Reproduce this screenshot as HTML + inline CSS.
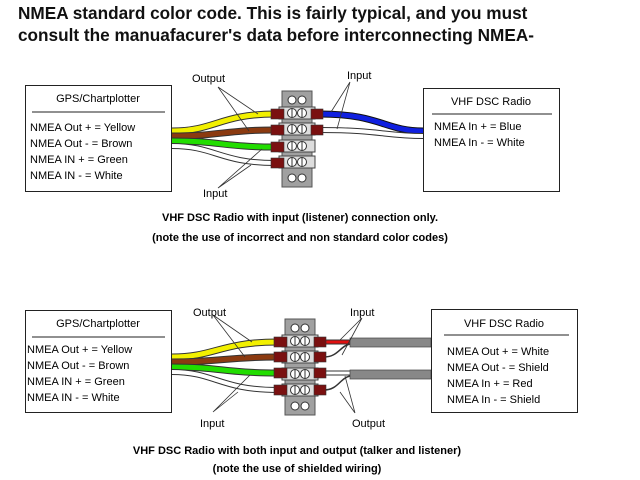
<!DOCTYPE html>
<html><head><style>body{margin:0;background:#fff}svg{display:block}text{font-family:"Liberation Sans",sans-serif}</style></head>
<body>
<svg width="640" height="480" viewBox="0 0 640 480" xmlns="http://www.w3.org/2000/svg">
<defs>
<g id="tb">
 <rect x="0" y="0" width="30" height="96" fill="#a0a0a0" stroke="#555"/>
 <circle cx="10" cy="9" r="4" fill="#fff" stroke="#333"/><circle cx="20" cy="9" r="4" fill="#fff" stroke="#333"/>
 <circle cx="10" cy="87" r="4" fill="#fff" stroke="#333"/><circle cx="20" cy="87" r="4" fill="#fff" stroke="#333"/>
 <g id="row"><rect x="-3" y="16" width="36" height="12" fill="#ddd" stroke="#444"/><circle cx="10" cy="22" r="4.5" fill="#fff" stroke="#333"/><circle cx="20" cy="22" r="4.5" fill="#fff" stroke="#333"/><line x1="10" y1="18" x2="10" y2="26" stroke="#333"/><line x1="20" y1="18" x2="20" y2="26" stroke="#333"/></g>
 <use href="#row" y="16"/><use href="#row" y="33"/><use href="#row" y="49"/>
</g>
</defs>
<text x="18" y="19" font-size="17.2" font-weight="bold" fill="#111">NMEA standard color code. This is fairly typical, and you must</text>
<text x="18" y="41" font-size="17.2" font-weight="bold" fill="#111">consult the manuafacurer's data before interconnecting NMEA-</text>

<!-- TOP DIAGRAM -->
<g fill="none" stroke-linecap="butt">
 <path d="M172,131 C215,131 220,114 275,114" stroke="#333" stroke-width="7"/><path d="M172,131 C215,131 220,114 275,114" stroke="#f2f000" stroke-width="5"/>
 <path d="M172,136 C220,136 225,130 275,130" stroke="#333" stroke-width="7"/><path d="M172,136 C220,136 225,130 275,130" stroke="#8b3a10" stroke-width="5"/>
 <path d="M172,141 C220,141 225,147 275,147" stroke="#333" stroke-width="7"/><path d="M172,141 C220,141 225,147 275,147" stroke="#22dd00" stroke-width="5"/>
 <path d="M172,146 C215,146 220,163 275,163" stroke="#333" stroke-width="6"/><path d="M172,146 C215,146 220,163 275,163" stroke="#fff" stroke-width="4"/>
 <path d="M320,114 C380,114 385,131 423,131" stroke="#111" stroke-width="7"/><path d="M320,114 C380,114 385,131 423,131" stroke="#1020e0" stroke-width="5"/>
 <path d="M320,130 C380,130 385,136 423,136" stroke="#333" stroke-width="6"/><path d="M320,130 C380,130 385,136 423,136" stroke="#fff" stroke-width="4"/>
</g>
<use href="#tb" x="282" y="91"/>
<g fill="#7a1010" stroke="#333" stroke-width="0.6">
 <rect x="271" y="109" width="13" height="10"/><rect x="271" y="125" width="13" height="10"/><rect x="271" y="142" width="13" height="10"/><rect x="271" y="158" width="13" height="10"/>
 <rect x="311" y="109" width="12" height="10"/><rect x="311" y="125" width="12" height="10"/>
</g>
<g stroke="#333" stroke-width="0.8" fill="none">
 <path d="M218,87 L258,114 M218,87 L249,131"/><path d="M350,82 L331,112 M350,82 L337,129"/><path d="M218,188 L251,165 M218,188 L262,149"/>
</g>
<text x="192" y="82" font-size="11">Output</text>
<text x="347" y="79" font-size="11">Input</text>
<text x="203" y="197" font-size="11">Input</text>
<rect x="25.5" y="85.5" width="146" height="106" fill="#fff" stroke="#222"/>
<text x="98" y="102" font-size="11" text-anchor="middle">GPS/Chartplotter</text>
<line x1="32" y1="112" x2="165" y2="112" stroke="#222"/>
<g font-size="11"><text x="30" y="131">NMEA Out + = Yellow</text><text x="30" y="147">NMEA Out - = Brown</text><text x="30" y="163">NMEA IN + = Green</text><text x="30" y="179">NMEA IN - = White</text></g>
<rect x="423.5" y="88.5" width="136" height="103" fill="#fff" stroke="#222"/>
<text x="491" y="105" font-size="11" text-anchor="middle">VHF DSC Radio</text>
<line x1="432" y1="114" x2="552" y2="114" stroke="#222"/>
<g font-size="11"><text x="434" y="130">NMEA In + =  Blue</text><text x="434" y="146">NMEA In - =  White</text></g>
<text x="300" y="221" font-size="11" font-weight="bold" text-anchor="middle">VHF DSC Radio with input (listener) connection only.</text>
<text x="300" y="241" font-size="11" font-weight="bold" text-anchor="middle">(note the use of incorrect and non standard color codes)</text>

<!-- BOTTOM DIAGRAM -->
<g fill="none">
 <path d="M172,357 C215,357 220,342 278,342" stroke="#333" stroke-width="7"/><path d="M172,357 C215,357 220,342 278,342" stroke="#f2f000" stroke-width="5"/>
 <path d="M172,362 C220,362 225,357 278,357" stroke="#333" stroke-width="7"/><path d="M172,362 C220,362 225,357 278,357" stroke="#8b3a10" stroke-width="5"/>
 <path d="M172,367 C220,367 225,373 278,373" stroke="#333" stroke-width="7"/><path d="M172,367 C220,367 225,373 278,373" stroke="#22dd00" stroke-width="5"/>
 <path d="M172,372 C215,372 220,390 278,390" stroke="#333" stroke-width="6"/><path d="M172,372 C215,372 220,390 278,390" stroke="#fff" stroke-width="4"/>
 <path d="M324,342 L350,342" stroke="#333" stroke-width="5"/><path d="M324,342 L350,342" stroke="#e01010" stroke-width="3"/>
 <path d="M324,357 C338,357 340,346 350,344" stroke="#333" stroke-width="1.5"/>
 <path d="M324,373 L350,373" stroke="#333" stroke-width="5"/><path d="M324,373 L350,373" stroke="#fff" stroke-width="3"/>
 <path d="M324,390 C338,390 340,378 350,376" stroke="#333" stroke-width="1.5"/>
 <rect x="350" y="338" width="81" height="9" fill="#888" stroke="#444" stroke-width="0.7"/>
 <rect x="350" y="370" width="81" height="9" fill="#888" stroke="#444" stroke-width="0.7"/>
</g>
<use href="#tb" x="285" y="319"/>
<g fill="#7a1010" stroke="#333" stroke-width="0.6">
 <rect x="274" y="337" width="13" height="10"/><rect x="274" y="352" width="13" height="10"/><rect x="274" y="368" width="13" height="10"/><rect x="274" y="385" width="13" height="10"/>
 <rect x="314" y="337" width="12" height="10"/><rect x="314" y="352" width="12" height="10"/><rect x="314" y="368" width="12" height="10"/><rect x="314" y="385" width="12" height="10"/>
</g>
<g stroke="#333" stroke-width="0.8" fill="none">
 <path d="M213,315 L252,342 M213,315 L245,357"/><path d="M362,318 L340,340 M362,318 L342,355"/><path d="M213,412 L238,392 M213,412 L250,375"/><path d="M355,413 L340,392 M355,413 L345,376"/>
</g>
<text x="193" y="316" font-size="11">Output</text>
<text x="350" y="316" font-size="11">Input</text>
<text x="200" y="427" font-size="11">Input</text>
<text x="352" y="427" font-size="11">Output</text>
<rect x="25.5" y="310.5" width="146" height="102" fill="#fff" stroke="#222"/>
<text x="98" y="327" font-size="11" text-anchor="middle">GPS/Chartplotter</text>
<line x1="32" y1="337" x2="165" y2="337" stroke="#222"/>
<g font-size="11"><text x="27" y="353">NMEA Out + = Yellow</text><text x="27" y="369">NMEA Out - = Brown</text><text x="27" y="385">NMEA IN + = Green</text><text x="27" y="401">NMEA IN - = White</text></g>
<rect x="431.5" y="309.5" width="146" height="103" fill="#fff" stroke="#222"/>
<text x="504" y="327" font-size="11" text-anchor="middle">VHF DSC Radio</text>
<line x1="444" y1="335" x2="569" y2="335" stroke="#222"/>
<g font-size="11"><text x="447" y="355">NMEA Out + = White</text><text x="447" y="371">NMEA Out - = Shield</text><text x="447" y="387">NMEA In + = Red</text><text x="447" y="403">NMEA In - = Shield</text></g>
<text x="297" y="454" font-size="11" font-weight="bold" text-anchor="middle">VHF DSC Radio with both input and output (talker and listener)</text>
<text x="297" y="472" font-size="11" font-weight="bold" text-anchor="middle">(note the use of shielded wiring)</text>
</svg>
</body></html>
